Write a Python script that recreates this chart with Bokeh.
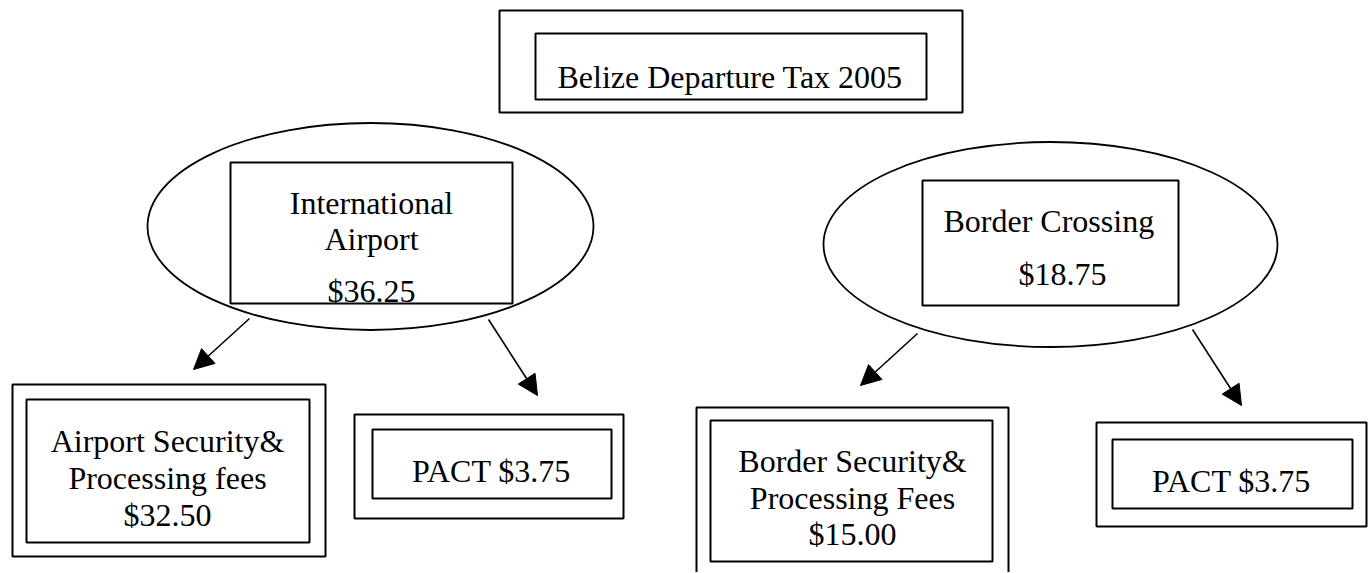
from bokeh.plotting import figure
from bokeh.models import Range1d, Arrow, NormalHead
from bokeh.core.properties import value
from bokeh.embed import file_html
from bokeh.resources import INLINE

# ---------------- data ----------------
title = "Belize Departure Tax 2005"
branch_names = ["International Airport", "Border Crossing"]
branch_values = [36.25, 18.75]
component_names = ["Airport Security& Processing fees", "PACT",
                   "Border Security& Processing Fees", "PACT"]
component_values = [32.50, 3.75, 15.00, 3.75]

def money(v):
    return "${:.2f}".format(v)

# ---------------- figure (y grows downward) ----------------
W, H = 1368, 572
p = figure(width=W, height=H, output_backend="svg", toolbar_location=None,
           x_range=Range1d(0, W), y_range=Range1d(H, 0),
           x_axis_type=None, y_axis_type=None, min_border=0)
p.grid.visible = False
p.outline_line_color = None
p.background_fill_color = "white"
p.border_fill_color = "white"

FONT = value("Liberation Serif")
FS = "32px"

def box(l, r, t, b, lw=2):
    p.quad(left=[l], right=[r], top=[t], bottom=[b], fill_color=None,
           line_color="black", line_width=lw)

def label(x, y, t, align="center"):
    p.text(x=[x], y=[y], text=[t], text_font=FONT, text_font_size=FS,
           text_align=align, text_baseline="alphabetic", text_color="black")

# title node (double frame)
box(499, 962, 10, 112)
box(535, 926, 33, 99)
label(557, 76, title, "left")

# branch nodes: ellipse + inner rectangle
p.ellipse(x=[370, 1050], y=[226, 244], width=[446, 454], height=[207, 205],
          fill_color=None, line_color="black", line_width=1.8)
box(230, 512, 162, 303)
box(922, 1178, 180, 305)
w1 = branch_names[0].split(" ")
label(371, 202, w1[0])
label(371, 238, w1[1])
label(371, 290, money(branch_values[0]))
label(943, 220, branch_names[1], "left")
label(1062, 273, money(branch_values[1]))

# component nodes (double frames)
box(12, 325, 384, 556)
box(26, 309, 399, 542)
a = component_names[0].split(" ")
label(167, 440, " ".join(a[:2]))
label(167, 477, " ".join(a[2:]))
label(167, 514, money(component_values[0]))

box(354, 623, 414, 518)
box(372, 611, 429, 498)
label(491, 470, component_names[1] + " " + money(component_values[1]))

box(696, 1008, 407, 600)
box(710, 992, 420, 561)
b = component_names[2].split(" ")
label(852, 460, " ".join(b[:2]))
label(852, 497, " ".join(b[2:]))
label(852, 533, money(component_values[2]))

box(1096, 1366, 422, 526)
box(1112, 1352, 439, 508)
label(1231, 480, component_names[3] + " " + money(component_values[3]))

# arrows
for xs, ys, xe, ye in [(249, 318, 193, 369), (488, 319, 537, 395),
                       (917, 333, 860, 385), (1192, 329, 1241, 405)]:
    p.add_layout(Arrow(x_start=xs, y_start=ys, x_end=xe, y_end=ye,
                       line_color="black", line_width=1.6,
                       end=NormalHead(size=20, fill_color="black",
                                      line_color="black", line_width=1)))

open("out.html", "w").write(file_html(p, INLINE))
